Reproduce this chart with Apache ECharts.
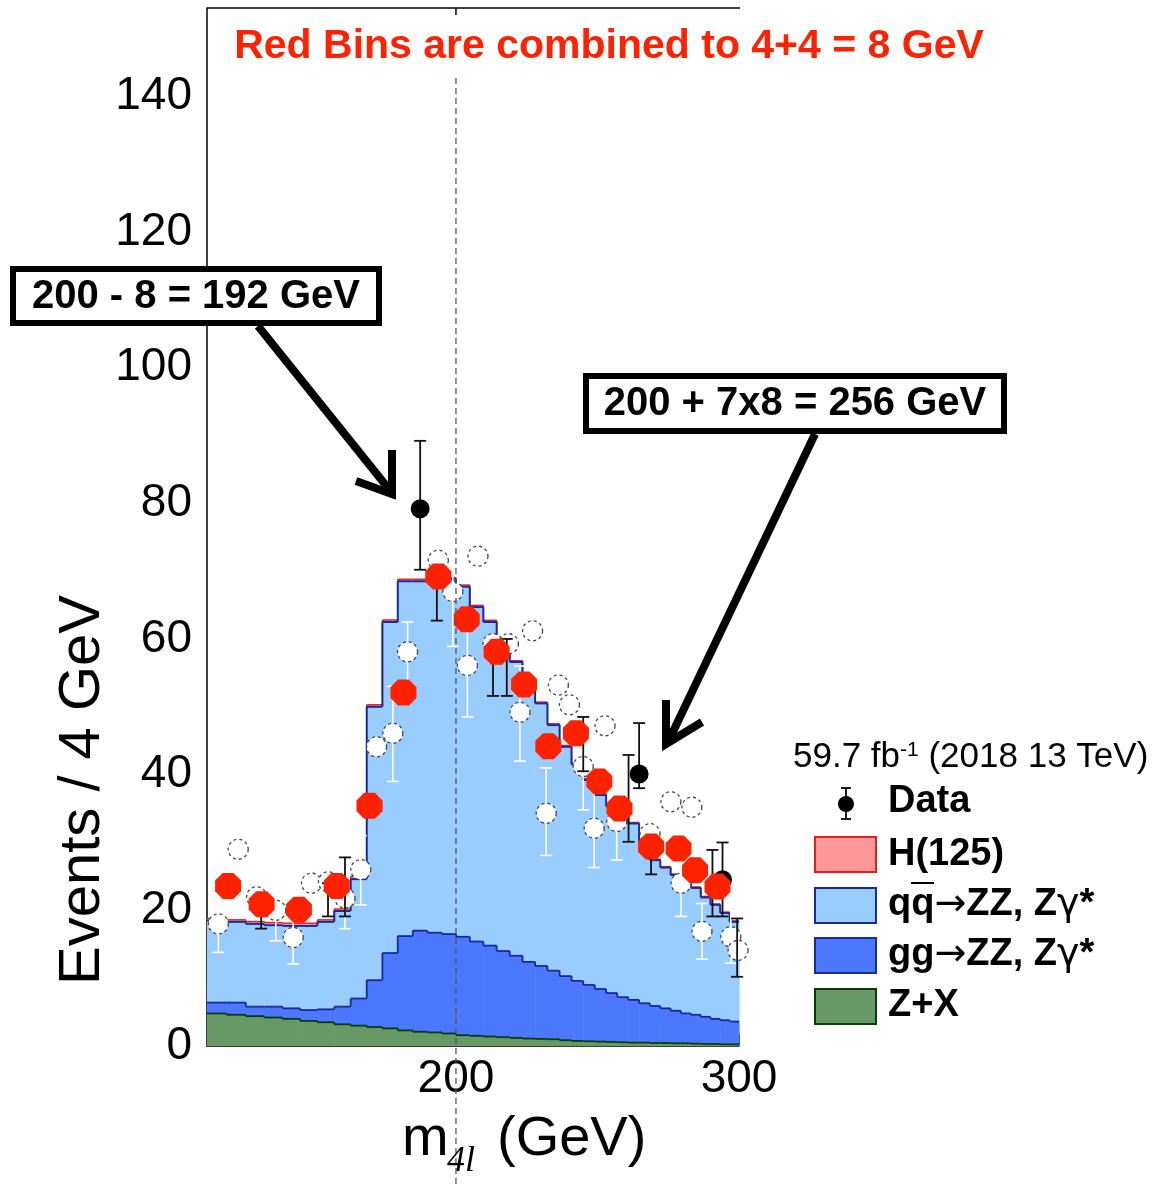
<!DOCTYPE html>
<html>
<head>
<meta charset="utf-8">
<script src="https://cdn.jsdelivr.net/npm/echarts@6/dist/echarts.min.js"></script>
<style>
  html, body { margin: 0; padding: 0; background: #fff; }
  #chart { width: 1158px; height: 1184px; }
</style>
</head>
<body>
<div id="chart"></div>
<script>
// 4 GeV bins, low edges (last bin ends at 300)
var binLow = [140, 144, 148, 152, 156, 160, 164, 168, 172, 176, 180, 184, 188, 192, 196, 200, 204, 208, 212, 216,
  220, 224, 228, 232, 236, 240, 244, 248, 252, 256, 260, 264, 268, 272, 276, 280, 284, 288, 292, 296];
var lastEdge = 300;

// stacked backgrounds, bottom to top
var zxVals = [4.8, 4.6, 4.4, 4.2, 4.0, 3.7, 3.5, 3.2, 3.0, 2.8, 2.6, 2.3, 2.1, 2.0, 1.85, 1.6, 1.5, 1.4, 1.3, 1.2,
  1.1, 1.05, 1.0, 0.85, 0.75, 0.7, 0.65, 0.6, 0.55, 0.5, 0.5, 0.45, 0.45, 0.4, 0.4, 0.35, 0.3, 0.3, 0.25, 0.25];
var ggVals = [1.6, 1.8, 1.4, 1.6, 1.55, 1.6, 1.9, 2.6, 4.0, 6.9, 11.1, 13.9, 14.9, 14.7, 14.65, 14.5, 13.9, 13.4, 12.7, 12.1,
  11.3, 10.75, 10.1, 9.45, 8.85, 8.3, 7.75, 7.2, 6.65, 6.3, 5.8, 5.45, 5.1, 4.8, 4.4, 4.25, 4.0, 3.7, 3.55, 3.35];
var qqVals = [12.1, 11.9, 12.2, 12.0, 12.15, 12.4, 12.9, 14.1, 17.6, 40.3, 48.8, 52.3, 51.5, 51.8, 52.3, 51.6, 49.3, 47.7, 46.1, 43.3,
  41.0, 38.7, 36.2, 33.8, 31.9, 30.2, 28.6, 27.5, 26.8, 26.0, 23.7, 21.5, 20.75, 20.0, 19.5, 18.7, 17.6, 16.8, 15.8, 14.7];
var hVals = [0.3, 0.3, 0.35, 0.4, 0.4, 0.4, 0.3, 0.3, 0.4, 0.3, 0.3, 0.3, 0.3, 0.25, 0.25, 0.25, 0.25, 0.25, 0.2, 0.2,
  0.2, 0.2, 0.2, 0.2, 0.2, 0.2, 0.2, 0.2, 0.15, 0.15, 0.15, 0.15, 0.15, 0.15, 0.15, 0.15, 0.15, 0.15, 0.15, 0.15];

// remaining black data points
var dataMass = [190, 260, 293];
var dataCounts = [79.2, 40.1, 24.5];
var dataLo = [70.2, 38.0, 19.1];
var dataHi = [89.2, 47.6, 30.0];

// red combined 8 GeV points
var redMass = [144.3, 151.4, 159.7, 168.6, 176.7, 185.5, 195.0, 203.1, 212.0, 220.5, 228.3, 237.5, 245.6, 252.8, 264.5, 275.1, 281.7, 290.9];
var redCounts = [23.6, 20.9, 20.1, 23.6, 35.4, 52.1, 69.2, 62.9, 58.1, 53.3, 44.2, 46.1, 39.0, 35.0, 29.4, 29.1, 25.9, 23.5];

// leftover black error bars
var barMass = [151.3, 166.5, 170.6, 194.6, 210.9, 215.1, 240.0, 256.1, 264.5, 288.8, 299.2];
var barLo = [17.3, 19.1, 19.1, 62.7, 51.6, 51.6, 40.5, 30.1, 25.3, 19.1, 10.2];
var barHi = [21.0, 24.0, 27.8, 69.2, 58.0, 60.0, 48.5, 42.9, 29.4, 28.9, 18.8];

// whited-out original 4 GeV points
var ghostMass = [142.3, 146.4, 150.3, 154.5, 158.4, 162.6, 166.6, 170.6, 174.5, 178.5, 182.7, 186.6, 195.0, 199.1, 206.4, 203.3, 210.9,
  215.6, 223.2, 219.2, 231.6, 235.3, 227.6, 240.0, 247.6, 243.8, 251.8, 264.1, 272.1, 280.4, 276.1, 284.5, 296.5, 299.6];
var ghostCounts = [18.0, 29.0, 22.0, 20.0, 16.0, 24.0, 24.2, 21.8, 26.0, 44.1, 46.1, 58.1, 71.6, 67.0, 72.2, 56.1, 59.3,
  59.3, 61.2, 49.2, 53.2, 50.3, 34.3, 41.2, 47.2, 32.1, 33.1, 31.3, 36.0, 35.2, 24.0, 16.9, 16.1, 14.1];
var ghostLo = [13.8, null, null, 15.5, 12.1, null, null, 17.3, 20.8, null, 39.0, 51.0, null, 58.9, null, 48.5, null,
  null, null, 42.0, null, null, 28.1, 34.8, null, 26.3, 27.4, null, null, null, 19.1, 12.8, 12.2, null];
var ghostHi = [22.0, null, null, 24.0, 20.0, null, null, 26.0, 31.0, null, 53.0, 62.5, null, 75.0, null, 63.0, null,
  null, null, 56.0, null, null, 41.0, 47.0, null, 38.0, 39.0, null, null, null, 29.0, 21.0, 20.0, null];

var FONT = 'Liberation Sans, Arial, Helvetica, sans-serif';

// build [lo, hi, base, top, prevTop] rows for each stacked layer
var layers = [zxVals, ggVals, qqVals, hVals];
var running = binLow.map(function () { return 0; });
var layerRows = layers.map(function (vals) {
  var rows = binLow.map(function (lo, i) {
    var hi = i < binLow.length - 1 ? binLow[i + 1] : lastEdge;
    return [lo, hi, running[i], running[i] + vals[i]];
  });
  rows.forEach(function (r, i) { r.push(i > 0 ? rows[i - 1][3] : r[3]); });
  running = rows.map(function (r) { return r[3]; });
  return rows;
});

function histRenderer(fill, edge, lw) {
  return function (params, api) {
    var a = api.coord([api.value(0), api.value(3)]);
    var b = api.coord([api.value(1), api.value(2)]);
    var p = api.coord([api.value(0), api.value(4)]);
    var st = { stroke: edge, lineWidth: lw };
    return {
      type: 'group',
      children: [
        { type: 'rect', shape: { x: a[0], y: a[1], width: b[0] - a[0] + 0.6, height: b[1] - a[1] }, style: { fill: fill } },
        { type: 'line', shape: { x1: a[0], y1: a[1], x2: b[0], y2: a[1] }, style: st },
        { type: 'line', shape: { x1: a[0], y1: p[1], x2: a[0], y2: a[1] }, style: st }
      ]
    };
  };
}

function histo(name, rows, fill, edge, lw, z) {
  return {
    name: name, type: 'custom', data: rows,
    encode: { x: [0, 1], y: [2, 3] },
    renderItem: histRenderer(fill, edge, lw), z: z, silent: true
  };
}

function zipBars(xs, lo, hi) {
  var out = [];
  xs.forEach(function (x, i) {
    if (lo[i] != null) out.push([x, lo[i], hi[i]]);
  });
  return out;
}

function barRenderer(color, capHalf, width) {
  return function (params, api) {
    var a = api.coord([api.value(0), api.value(1)]);
    var b = api.coord([api.value(0), api.value(2)]);
    var st = { stroke: color, lineWidth: width };
    return {
      type: 'group',
      children: [
        { type: 'line', shape: { x1: a[0], y1: a[1], x2: b[0], y2: b[1] }, style: st },
        { type: 'line', shape: { x1: a[0] - capHalf, y1: a[1], x2: a[0] + capHalf, y2: a[1] }, style: st },
        { type: 'line', shape: { x1: b[0] - capHalf, y1: b[1], x2: b[0] + capHalf, y2: b[1] }, style: st }
      ]
    };
  };
}

var octagon = 'path://M29.3,0 L70.7,0 L100,29.3 L100,70.7 L70.7,100 L29.3,100 L0,70.7 L0,29.3 Z';

var chart = echarts.init(document.getElementById('chart'));

var option = {
  animation: false,
  backgroundColor: '#fff',
  grid: { left: 207, right: 419, top: 8, bottom: 138, containLabel: false },
  xAxis: {
    type: 'log', logBase: 10, min: 140, max: 300,
    axisLine: { show: true, onZero: false, lineStyle: { color: '#000', width: 1.5 } },
    axisTick: { show: true, inside: true, length: 12, customValues: [200, 300], lineStyle: { color: '#000', width: 1.5 } },
    axisLabel: { customValues: [200, 300], fontSize: 46, color: '#000', fontFamily: FONT, margin: 10 },
    minorTick: { show: false },
    splitLine: { show: false }
  },
  yAxis: {
    type: 'value', min: 0, max: 153, interval: 20,
    axisLine: { show: true, lineStyle: { color: '#000', width: 1.5 } },
    axisTick: { show: false },
    axisLabel: { fontSize: 46, color: '#000', fontFamily: FONT, margin: 15, showMaxLabel: false },
    splitLine: { show: false }
  },
  series: [
    histo('Z+X', layerRows[0], '#669966', '#0b3b0b', 1.8, 6),
    histo('gg', layerRows[1], '#4b78ff', '#1a2a9a', 1.8, 5),
    histo('qq', layerRows[2], '#99ccff', '#1a2a9a', 2, 4),
    histo('H(125)', layerRows[3], '#ff9999', '#e02020', 1.4, 3),
    {
      type: 'custom', name: 'ghostErr', data: zipBars(ghostMass, ghostLo, ghostHi),
      encode: { x: 0, y: [1, 2] }, renderItem: barRenderer('#fff', 6, 1.6), z: 8, silent: true
    },
    {
      type: 'scatter', name: 'ghost', symbol: 'circle', symbolSize: 20,
      data: ghostMass.map(function (x, i) { return [x, ghostCounts[i]]; }),
      itemStyle: { color: '#fff', opacity: 1, borderColor: '#444', borderWidth: 1.3, borderType: [3, 3] },
      z: 9, silent: true
    },
    {
      type: 'custom', name: 'blackErr', data: zipBars(barMass, barLo, barHi).concat(zipBars(dataMass, dataLo, dataHi)),
      encode: { x: 0, y: [1, 2] }, renderItem: barRenderer('#111', 6, 1.8), z: 10, silent: true
    },
    {
      type: 'scatter', name: 'Data', symbol: 'circle', symbolSize: 19,
      data: dataMass.map(function (x, i) { return [x, dataCounts[i]]; }),
      itemStyle: { color: '#000', opacity: 1 }, z: 11, silent: true
    },
    {
      type: 'scatter', name: 'Combined', symbol: octagon, symbolSize: 26,
      data: redMass.map(function (x, i) { return [x, redCounts[i]]; }),
      itemStyle: { color: '#ff2200', opacity: 1 }, z: 12, silent: true
    }
  ]
};

chart.setOption(option);

var x200 = chart.convertToPixel({ xAxisIndex: 0 }, 200);

function txt(x, y, text, font, align, extra, color) {
  var el = {
    type: 'text', x: x, y: y, z: 50,
    style: { text: text, font: font, fill: color || '#000', align: align || 'left', verticalAlign: 'middle',
      textAlign: align || 'left', textVerticalAlign: 'middle' }
  };
  if (extra) Object.keys(extra).forEach(function (k) { el[k] = extra[k]; });
  return el;
}

function box(x, y, w, h, fill, stroke, lw) {
  return { type: 'rect', z: 50, shape: { x: x, y: y, width: w, height: h }, style: { fill: fill, stroke: stroke, lineWidth: lw } };
}

function seg(x1, y1, x2, y2, color, lw, dash) {
  var st = { stroke: color, lineWidth: lw };
  if (dash) st.lineDash = dash;
  return { type: 'line', z: 49, shape: { x1: x1, y1: y1, x2: x2, y2: y2 }, style: st };
}

function poly(points, lw) {
  return { type: 'polyline', z: 50, shape: { points: points }, style: { stroke: '#000', lineWidth: lw, fill: null, lineJoin: 'miter' } };
}

function legendRich(x, y, first) {
  return {
    type: 'text', x: x, y: y, z: 50,
    style: {
      text: '{b|' + first + '}{n|\u2192}{b|ZZ, Z}{n|\u03b3}{b|*}', fill: '#000', align: 'left', verticalAlign: 'middle',
      textAlign: 'left', textVerticalAlign: 'middle',
      rich: {
        b: { fontSize: 38, fontWeight: 'bold', fontFamily: FONT, fill: '#000', color: '#000' },
        n: { fontSize: 38, fontFamily: 'DejaVu Sans, sans-serif', fill: '#000', color: '#000' }
      }
    }
  };
}

var elems = [
  // frame top and dashed marker at 200 GeV
  seg(207, 8, 740, 8, '#000', 1.5),
  seg(x200, 8, x200, 15, '#000', 1.5),
  seg(x200, 78, x200, 1184, '#555', 1.3, [6, 4]),
  // title
  txt(609, 47, 'Red Bins are combined to 4+4 = 8 GeV', 'bold 41px ' + FONT, 'center', null, '#ff2200'),
  // annotations
  box(13, 269, 366, 54, '#fff', '#000', 6),
  txt(196, 297, '200 - 8 = 192 GeV', 'bold 40px ' + FONT, 'center'),
  poly([[258, 326], [388, 488]], 8),
  poly([[392, 450], [392, 494], [356, 481]], 8),
  box(586, 376, 418, 55, '#fff', '#000', 6),
  txt(795, 404, '200 + 7x8 = 256 GeV', 'bold 40px ' + FONT, 'center'),
  poly([[815, 434], [670, 738]], 8),
  poly([[666, 700], [666, 744], [702, 722]], 8),
  // axis titles
  txt(83, 790, 'Events / 4 GeV', '58px ' + FONT, 'center', { rotation: Math.PI / 2 }),
  txt(402, 1140, 'm', '56px ' + FONT, 'left'),
  txt(447, 1162, '4l', 'italic 36px Liberation Serif, serif', 'left'),
  txt(497, 1140, '(GeV)', '56px ' + FONT, 'left'),
  // legend
  {
    type: 'text', x: 793, y: 757, z: 50,
    style: {
      text: '{a|59.7 fb}{s|-1}{a| (2018 13 TeV)}', fill: '#000', align: 'left', verticalAlign: 'middle',
      textAlign: 'left', textVerticalAlign: 'middle',
      rich: {
        a: { fontSize: 35, fontFamily: FONT, fill: '#000', color: '#000' },
        s: { fontSize: 21, fontFamily: FONT, fill: '#000', color: '#000', verticalAlign: 'top' }
      }
    }
  },
  seg(846, 788, 846, 819, '#000', 1.8),
  seg(841, 788, 851, 788, '#000', 1.8),
  seg(841, 819, 851, 819, '#000', 1.8),
  { type: 'circle', z: 51, shape: { cx: 846, cy: 804, r: 8 }, style: { fill: '#000' } },
  txt(888, 802, 'Data', 'bold 38px ' + FONT, 'left'),
  box(815, 837, 61, 35, '#ff9999', '#e02020', 2),
  txt(888, 855, 'H(125)', 'bold 38px ' + FONT, 'left'),
  box(815, 888, 61, 35, '#99ccff', '#1a2a9a', 2),
  legendRich(888, 905, 'qq'),
  seg(911, 883, 934, 883, '#000', 2),
  box(815, 938, 61, 35, '#4b78ff', '#1a2a9a', 2),
  legendRich(888, 955, 'gg'),
  box(815, 989, 61, 35, '#669966', '#0b3b0b', 2),
  txt(888, 1006, 'Z+X', 'bold 38px ' + FONT, 'left')
];

chart.setOption({ graphic: { elements: elems } });
</script>
</body>
</html>
